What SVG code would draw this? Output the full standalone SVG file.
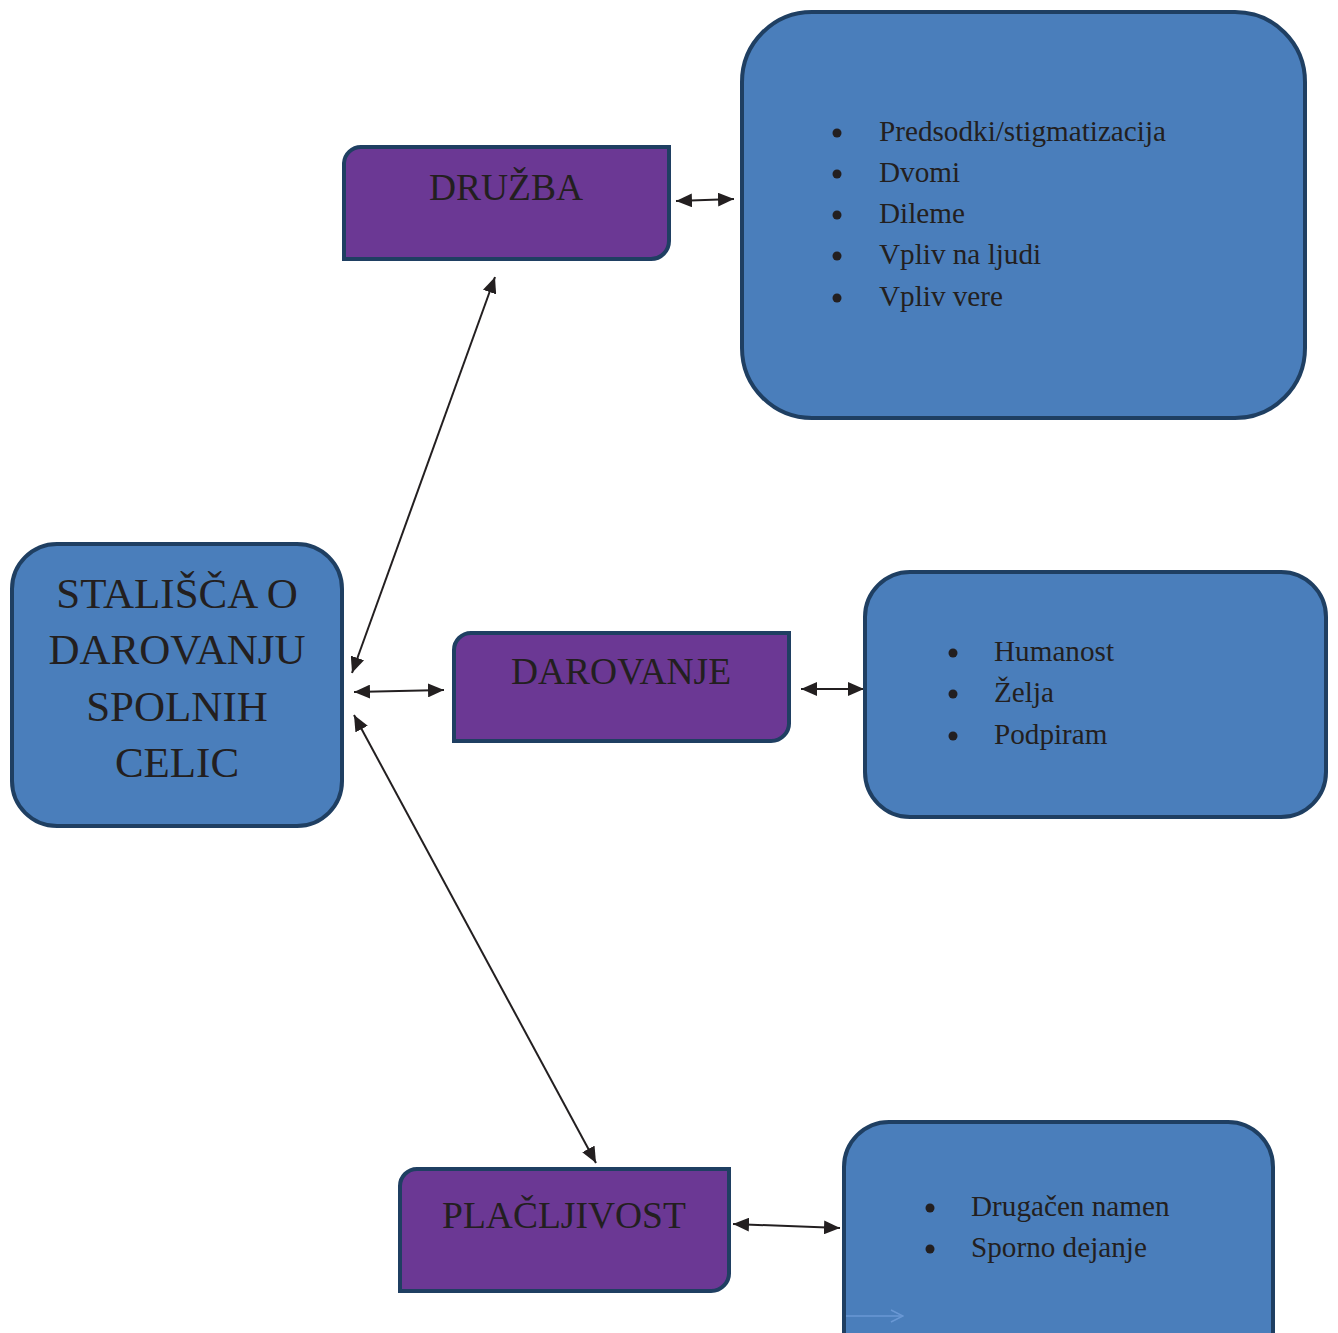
<svg xmlns="http://www.w3.org/2000/svg" width="1338" height="1333" viewBox="0 0 1338 1333">
<style>
.blue{fill:#4a7ebb;stroke:#1f3f62;stroke-width:4}
.purple{fill:#6b3894;stroke:#1f3f62;stroke-width:4}
.t{font-family:"Liberation Serif","Times New Roman",serif;fill:#231f20}
.big{font-size:43px}
.mid{font-size:37.5px}
.li{font-size:29.2px}
.c{stroke:#231f20;stroke-width:2;fill:none;marker-start:url(#ah);marker-end:url(#ah)}
</style>
<defs>
<marker id="ah" markerUnits="userSpaceOnUse" markerWidth="16" markerHeight="14" refX="16" refY="7" orient="auto-start-reverse" viewBox="0 0 16 14">
<path d="M0,0 L16,7 L0,14 Z" fill="#231f20"/>
</marker>
<marker id="oh" markerUnits="userSpaceOnUse" markerWidth="14" markerHeight="14" refX="13" refY="7" orient="auto" viewBox="0 0 14 14">
<path d="M1,1 L13,7 L1,13" fill="none" stroke="#6a98d4" stroke-width="1.5"/>
</marker>
</defs>
<rect width="1338" height="1333" fill="#ffffff"/>

<g id="connectors">
<line class="c" x1="676" y1="201" x2="734" y2="199"/>
<line class="c" x1="352" y1="673" x2="495" y2="277"/>
<line class="c" x1="354" y1="692" x2="444" y2="690"/>
<line class="c" x1="801" y1="689" x2="864" y2="689"/>
<line class="c" x1="354" y1="715" x2="596" y2="1163"/>
<line class="c" x1="733" y1="1224" x2="840" y2="1228"/>
</g>

<g id="node-main">
<rect class="blue" x="12" y="544" width="330" height="282" rx="45" ry="45"/>
<text class="t big" text-anchor="middle" x="177" y="608">STALIŠČA O</text>
<text class="t big" text-anchor="middle" x="177" y="664">DAROVANJU</text>
<text class="t big" text-anchor="middle" x="177" y="721">SPOLNIH</text>
<text class="t big" text-anchor="middle" x="177" y="777">CELIC</text>
</g>

<g id="node-druzba">
<path class="purple" d="M344,259 V163 A17,17 0 0 1 361,147 H669 V241 A18,18 0 0 1 651,259 Z"/>
<text class="t mid" text-anchor="middle" x="506" y="200">DRUŽBA</text>
</g>

<g id="node-darovanje">
<path class="purple" d="M454,741 V650 A17,17 0 0 1 471,633 H789 V722 A18,18 0 0 1 771,741 Z"/>
<text class="t mid" text-anchor="middle" x="621" y="684">DAROVANJE</text>
</g>

<g id="node-placljivost">
<path class="purple" d="M400,1291 V1186 A17,17 0 0 1 417,1169 H729 V1272 A18,18 0 0 1 711,1291 Z"/>
<text class="t mid" text-anchor="middle" x="564" y="1228">PLAČLJIVOST</text>
</g>

<g id="node-list1">
<rect class="blue" x="742" y="12" width="563" height="406" rx="70" ry="70"/>
<g class="t li">
<circle cx="837" cy="133" r="4.5" fill="#231f20"/><text x="879" y="141">Predsodki/stigmatizacija</text>
<circle cx="837" cy="174" r="4.5" fill="#231f20"/><text x="879" y="182">Dvomi</text>
<circle cx="837" cy="215" r="4.5" fill="#231f20"/><text x="879" y="223">Dileme</text>
<circle cx="837" cy="256" r="4.5" fill="#231f20"/><text x="879" y="264">Vpliv na ljudi</text>
<circle cx="837" cy="298" r="4.5" fill="#231f20"/><text x="879" y="306">Vpliv vere</text>
</g>
</g>

<g id="node-list2">
<rect class="blue" x="865" y="572" width="461" height="245" rx="45" ry="45"/>
<g class="t li">
<circle cx="953" cy="653" r="4.5" fill="#231f20"/><text x="994" y="661">Humanost</text>
<circle cx="953" cy="694" r="4.5" fill="#231f20"/><text x="994" y="702">Želja</text>
<circle cx="953" cy="736" r="4.5" fill="#231f20"/><text x="994" y="744">Podpiram</text>
</g>
</g>

<g id="node-list3">
<rect class="blue" x="844" y="1122" width="429" height="260" rx="45" ry="45"/>
<g class="t li">
<circle cx="930" cy="1208" r="4.5" fill="#231f20"/><text x="971" y="1216">Drugačen namen</text>
<circle cx="930" cy="1249" r="4.5" fill="#231f20"/><text x="971" y="1257">Sporno dejanje</text>
</g>
<line x1="846" y1="1316" x2="903" y2="1316" stroke="#6a98d4" stroke-width="1.5" marker-end="url(#oh)"/>
</g>
</svg>
